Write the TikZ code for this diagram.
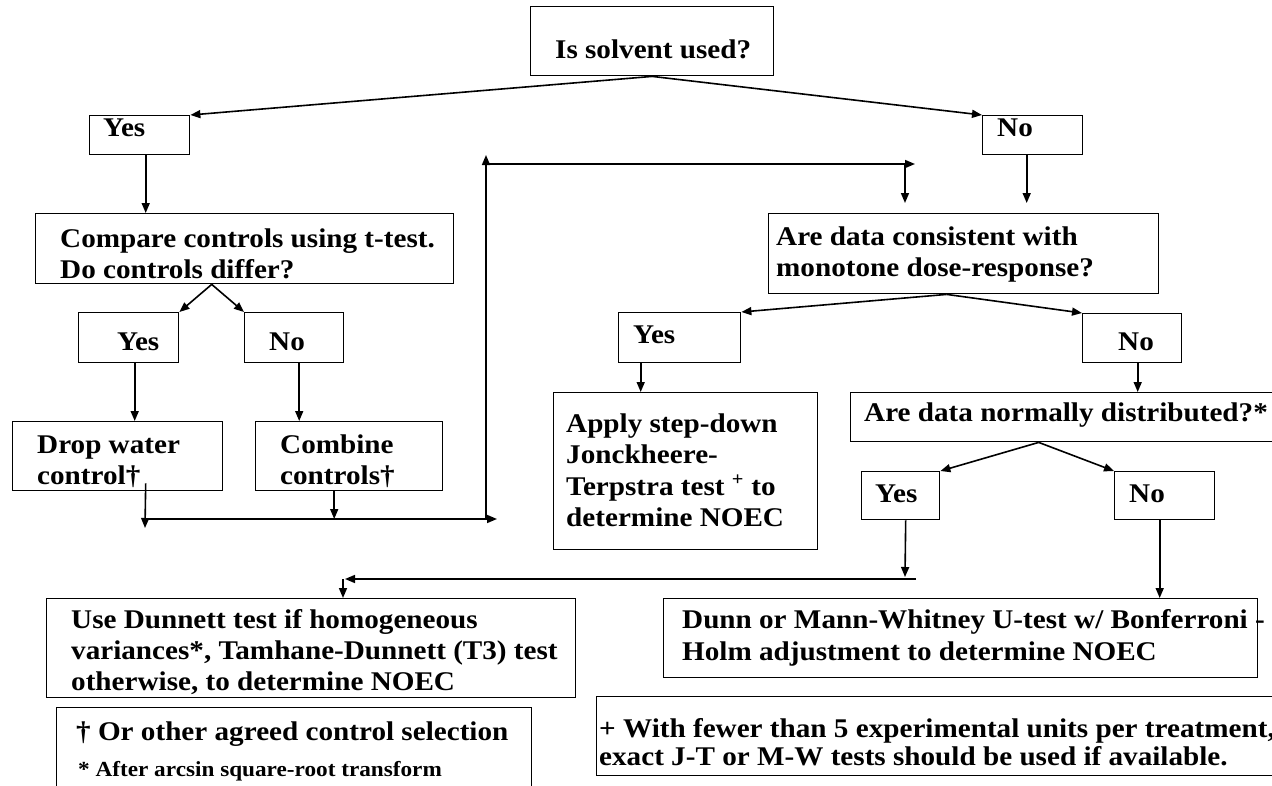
\documentclass[tikz,border=0pt]{standalone}
\usepackage{fontspec}
\setmainfont{Liberation Serif}[FakeStretch=1.08]
\usetikzlibrary{arrows.meta}
\newcommand{\ml}[1]{\begin{tabular}[t]{@{}l@{}}#1\end{tabular}}
\begin{document}
\begin{tikzpicture}[x=1pt,y=-1pt,
  box/.style={draw, line width=1.4pt, inner sep=0pt, anchor=north west},
  txt/.style={inner sep=0pt, anchor=base west, font=\bfseries\fontsize{27}{31}\selectfont},
  arr/.style={line width=1.6pt, -{Triangle[length=10pt,width=8pt]}},
  ln/.style={line width=1.6pt}]
\useasboundingbox (0,0) rectangle (1272,785);
\fill[white] (0,0) rectangle (1272,785);
\clip (0,0) rectangle (1272,785);

% boxes
\node[box, minimum width=243, minimum height=69] (title) at (530,6) {};
\node[box, minimum width=100, minimum height=39] (yes1) at (89,115) {};
\node[box, minimum width=100, minimum height=39] (no1) at (982,115) {};
\node[box, minimum width=418, minimum height=70] (compare) at (35,213) {};
\node[box, minimum width=100, minimum height=50] (yes2) at (78,312) {};
\node[box, minimum width=99, minimum height=50] (no2) at (244,312) {};
\node[box, minimum width=210, minimum height=69] (drop) at (12,421) {};
\node[box, minimum width=187, minimum height=69] (combine) at (255,421) {};
\node[box, minimum width=390, minimum height=80] (arecons) at (768,213) {};
\node[box, minimum width=122, minimum height=50] (yes3) at (618,312) {};
\node[box, minimum width=99, minimum height=49] (no3) at (1082,313) {};
\node[box, minimum width=264, minimum height=157] (apply) at (553,392) {};
\node[box, minimum width=440, minimum height=49] (normal) at (850,392) {};
\node[box, minimum width=78, minimum height=48] (yes4) at (861,471) {};
\node[box, minimum width=100, minimum height=48] (no4) at (1114,471) {};
\node[box, minimum width=529, minimum height=99] (dunnett) at (46,598) {};
\node[box, minimum width=594, minimum height=79] (dunn) at (663,598) {};
\node[box, minimum width=475, minimum height=100] (foot1) at (56,707) {};
\node[box, minimum width=700, minimum height=79] (foot2) at (596,696) {};

% texts
\node[txt] (ttitle) at (555,58) {Is solvent used?};
\node[txt] (tyes1) at (103,136) {Yes};
\node[txt] (tno1) at (997,136) {No};
\node[txt] (tcompare) at (60,247) {\ml{Compare controls using t-test.\\Do controls differ?}};
\node[txt] (tyes2) at (117,350) {Yes};
\node[txt] (tno2) at (269,350) {No};
\node[txt] (tdrop) at (37,453) {\ml{Drop water\\control†}};
\node[txt] (tcombine) at (280,453) {\ml{Combine\\controls†}};
\node[txt] (tarecons) at (776,245) {\ml{Are data consistent with\\monotone dose-response?}};
\node[txt] (tyes3) at (633,343) {Yes};
\node[txt] (tno3) at (1118,350) {No};
\node[txt, font=\bfseries\fontsize{27}{31.5}\selectfont] (tapply) at (566,432)
  {\ml{Apply step-down\\Jonckheere-\\Terpstra test \textsuperscript{+} to\\determine NOEC}};
\node[txt] (tnormal) at (864,421) {Are data normally distributed?*};
\node[txt] (tyes4) at (875,502) {Yes};
\node[txt] (tno4) at (1129,502) {No};
\node[txt] (tdunnett) at (71,628)
  {\ml{Use Dunnett test if homogeneous\\variances*, Tamhane-Dunnett (T3) test\\otherwise, to determine NOEC}};
\node[txt, font=\bfseries\fontsize{27}{32}\selectfont] (tdunn) at (682,628)
  {\ml{Dunn or Mann-Whitney U-test w/ Bonferroni -\\Holm adjustment to determine NOEC}};
\node[txt] (tfoot1a) at (76,740) {† Or other agreed control selection};
\node[txt, font=\bfseries\fontsize{21.5}{25}\selectfont] (tfoot1b) at (78,776) {* After arcsin square-root transform};
\node[txt, font=\bfseries\fontsize{27}{28}\selectfont] (tfoot2) at (599,737)
  {\ml{+ With fewer than 5 experimental units per treatment,\\exact J-T or M-W tests should be used if available.}};

% free-end coordinates
\coordinate (dropEnd) at (145,528);
\coordinate (loopL) at (145,519);
\coordinate (loopR) at (497,519);
\coordinate (upB) at (486,519);
\coordinate (upT) at (486,155);
\coordinate (topL) at (486,164);
\coordinate (topR) at (915,164);
\coordinate (downS) at (905,164);
\coordinate (y4End) at (905,577);
\coordinate (lowR) at (916,579);
\coordinate (lowL) at (345,579);
\coordinate (lowC) at (343,579);

% connectors
\draw[arr] (title.south) -- (yes1.north east);
\draw[arr] (title.south) -- (no1.north west);
\draw[arr] ([xshift=6pt]yes1.south) -- ([xshift=6pt]yes1.south |- compare.north);
\draw[arr] ([xshift=-33pt]compare.south) -- (yes2.north east);
\draw[arr] ([xshift=-33pt]compare.south) -- (no2.north west);
\draw[arr] ([xshift=6pt]yes2.south) -- ([xshift=6pt]yes2.south |- drop.north);
\draw[arr] ([xshift=5pt]no2.south) -- ([xshift=5pt]no2.south |- combine.north);
\draw[arr] ([xshift=28pt,yshift=8pt]drop.south) -- (dropEnd);
\draw[arr] ([xshift=-15pt]combine.south) -- ([xshift=-15pt]combine.south |- loopL);
\draw[arr] (loopL) -- (loopR);
\draw[arr] (upB) -- (upT);
\draw[arr] (topL) -- (topR);
\draw[arr] (downS) -- ([yshift=10pt]arecons.north -| downS);
\draw[arr] ([xshift=-6pt]no1.south) -- ([xshift=-6pt,yshift=10pt]no1.south |- arecons.north);
\draw[arr] ([xshift=-17pt]arecons.south) -- (yes3.north east);
\draw[arr] ([xshift=-17pt]arecons.south) -- (no3.north west);
\draw[arr] ([xshift=-39pt]yes3.south) -- ([xshift=-39pt]yes3.south |- apply.north);
\draw[arr] ([xshift=5.5pt]no3.south) -- ([xshift=5.5pt]no3.south |- normal.north);
\draw[arr] ([xshift=-32pt]normal.south) -- (yes4.north east);
\draw[arr] ([xshift=-32pt]normal.south) -- (no4.north west);
\draw[arr] ([xshift=5pt]yes4.south) -- (y4End);
\draw[arr] (lowR) -- (lowL);
\draw[arr] (lowC) -- (lowC |- dunnett.north);
\draw[arr] ([xshift=-5pt]no4.south) -- ([xshift=-5pt]no4.south |- dunn.north);
\end{tikzpicture}
\end{document}
